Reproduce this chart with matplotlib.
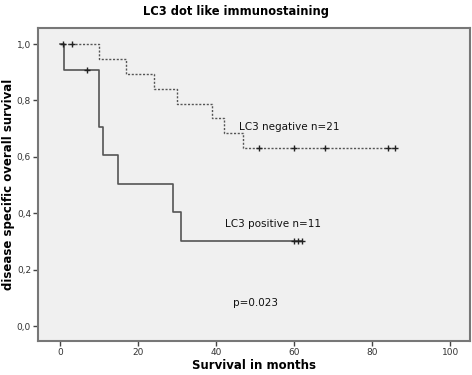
import matplotlib
matplotlib.use("Agg")
import matplotlib.pyplot as plt
import numpy as np

# Kaplan-Meier step data (months, survival)
pos_times = [0, 1, 10, 11, 15, 29, 31, 62]
pos_surv = [1.0, 0.909, 0.707, 0.606, 0.505, 0.404, 0.303, 0.303]
pos_cens_t = [7, 60, 61, 62]
pos_cens_s = [0.909, 0.303, 0.303, 0.303]

neg_times = [0, 10, 17, 24, 30, 39, 42, 47, 86]
neg_surv = [1.0, 0.947, 0.895, 0.842, 0.789, 0.737, 0.684, 0.632, 0.632]
neg_cens_t = [0.7, 3, 51, 60, 68, 84, 86]
neg_cens_s = [1.0, 1.0, 0.632, 0.632, 0.632, 0.632, 0.632]

xticks = [0, 20, 40, 60, 80, 100]
yticks = [0.0, 0.2, 0.4, 0.6, 0.8, 1.0]
ytick_labels = ["0,0", "0,2", "0,4", "0,6", "0,8", "1,0"]

fig = plt.figure(figsize=(4.72, 3.75), dpi=100)
ax = fig.add_axes([0.0805, 0.0915, 0.9153, 0.8338])
ax.set_facecolor("#f0f0f0")

line_col = "#555555"
ax.step(neg_times, neg_surv, where="post", color=line_col, lw=1.0, ls=(0, (1.5, 1.2)))
ax.step(pos_times, pos_surv, where="post", color=line_col, lw=1.2)
ax.plot(neg_cens_t, neg_cens_s, ls="none", marker="+", color="#222222", ms=5, mew=1.0)
ax.plot(pos_cens_t, pos_cens_s, ls="none", marker="+", color="#222222", ms=5, mew=1.0)

ax.text(46, 0.706, "LC3 negative n=21", fontsize=7.5, va="center", ha="left", color="#111111")
ax.text(42.3, 0.361, "LC3 positive n=11", fontsize=7.5, va="center", ha="left", color="#111111")
ax.text(44.4, 0.081, "p=0.023", fontsize=7.5, va="center", ha="left", color="#111111")

ax.set_xlim(-5.6, 105.1)
ax.set_ylim(-0.052, 1.057)
ax.set_xticks(xticks)
ax.set_yticks(yticks)
ax.set_yticklabels(ytick_labels)
ax.tick_params(labelsize=6.5, length=3.5, width=1, color="#444444", labelcolor="#333333",
               direction="out", pad=1.5)
for s in ax.spines.values():
    s.set_color("#777777")
    s.set_linewidth(1.5)

ax.set_xlabel("Survival in months", fontsize=8.5, fontweight="bold", labelpad=2)
ax.set_ylabel("disease specific overall survival", fontsize=8.5, fontweight="bold", labelpad=1)
fig.text(0.5, 0.968, "LC3 dot like immunostaining", fontsize=8.3, fontweight="bold", ha="center", va="center")

fig.savefig("out.png", dpi=100)
